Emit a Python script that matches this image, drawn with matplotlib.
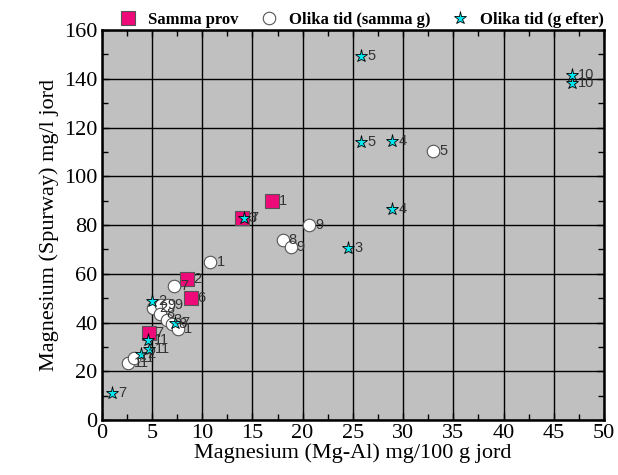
import matplotlib
matplotlib.use("Agg")
import matplotlib.pyplot as plt
from matplotlib.ticker import MultipleLocator

# Samma prov
sq_x = [17.0, 14.0, 8.5, 8.9, 4.7]
sq_y = [90, 83, 58, 50, 35.5]
sq_lab = ["1", "3", "2", "6", "7"]

# Olika tid (samma g)
ci_x = [33.0, 20.6, 18.0, 18.8, 10.8, 7.2, 5.1, 5.9, 6.6, 5.8, 6.5, 7.0, 7.6, 2.6, 3.2]
ci_y = [110.5, 80, 74, 71, 65, 55, 46, 47, 47, 43.5, 41, 39.5, 37.5, 23.5, 25.5]
ci_lab = ["5", "9", "8", "9", "1", "7", "2", "9", "9", "8", "3", "8", "1", "11", "11"]

# Olika tid (g efter)
st_x = [1.0, 3.9, 4.7, 4.6, 5.05, 7.3, 14.2, 24.5, 28.9, 25.8, 28.9, 25.8, 46.8, 46.8]
st_y = [11, 27, 29, 33, 49, 40, 82.7, 70.5, 86.6, 114, 114.5, 149.3, 138.4, 141.5]
st_lab = ["7", "2", "11", "11", "2", "7", "7", "3", "4", "5", "4", "5", "10", "10"]

plt.rcParams["font.family"] = ["Liberation Serif", "DejaVu Serif"]

fig = plt.figure(figsize=(6.18, 4.75), dpi=100)
ax = fig.add_axes([0.1646, 0.1158, 0.8127, 0.821])
ax.set_facecolor("#c0c0c0")

ax.plot(sq_x, sq_y, "s", ms=9.5, mfc="#ee0a78", mec="#555555", mew=0.8,
        label="Samma prov", zorder=3)
ax.plot(ci_x, ci_y, "o", ms=9, mfc="white", mec="#555555", mew=0.8,
        label="Olika tid (samma g)", zorder=3)
ax.plot(st_x, st_y, "*", ms=9.5, mfc="#00e8f0", mec="black", mew=0.6,
        label="Olika tid (g efter)", zorder=4)

for xs, ys, labs in [(sq_x, sq_y, sq_lab), (ci_x, ci_y, ci_lab), (st_x, st_y, st_lab)]:
    for x, y, t in zip(xs, ys, labs):
        ax.annotate(t, (x, y), xytext=(4.5, 0), textcoords="offset points",
                    ha="left", va="center", fontsize=10.5, color="#333333",
                    family="Liberation Sans", zorder=5)

ax.set_xlim(0, 50)
ax.set_ylim(0, 160)
ax.xaxis.set_major_locator(MultipleLocator(5))
ax.xaxis.set_minor_locator(MultipleLocator(2.5))
ax.yaxis.set_major_locator(MultipleLocator(20))
ax.yaxis.set_minor_locator(MultipleLocator(10))
ax.grid(True, which="major", color="black", lw=1.0)
ax.set_axisbelow(True)
ax.tick_params(which="both", direction="in", top=True, right=True, labelsize=16, pad=3)
ax.tick_params(which="major", length=5, width=1)
ax.tick_params(which="minor", length=4, width=1)
for s in ax.spines.values():
    s.set_linewidth(1.8)

ax.set_xlabel("Magnesium (Mg-Al) mg/100 g jord", fontsize=16, labelpad=0)
ax.set_ylabel("Magnesium (Spurway) mg/l jord", fontsize=16, labelpad=4)

fig.legend(loc="center", bbox_to_anchor=(0.586, 0.958), ncol=3, frameon=False,
           prop={"weight": "bold", "size": 12}, handletextpad=0.7,
           columnspacing=1.3, handlelength=1.0, borderaxespad=0)

fig.savefig("out.png", dpi=100)
